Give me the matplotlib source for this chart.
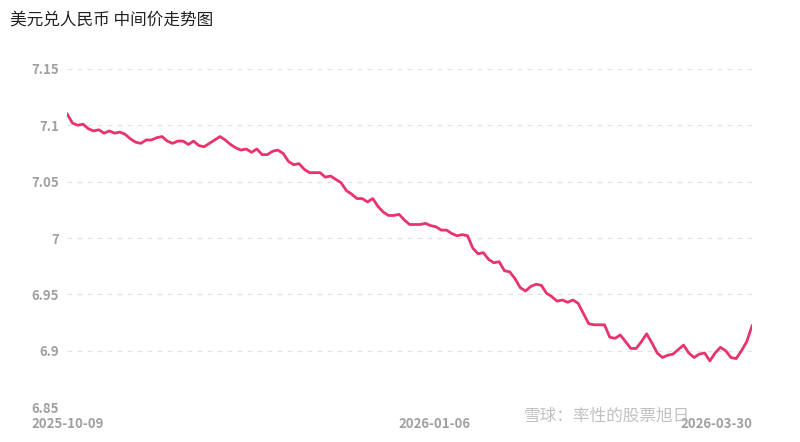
import matplotlib
matplotlib.use("Agg")
import matplotlib.pyplot as plt

plt.rcParams['font.family'] = ['Noto Sans CJK SC', 'DejaVu Sans']

title = "美元兑人民币 中间价走势图"
x_labels = ["2025-10-09", "2026-01-06", "2026-03-30"]
values = [7.110, 7.102, 7.100, 7.101, 7.097, 7.095, 7.096, 7.093, 7.095, 7.093,
          7.094, 7.092, 7.088, 7.085, 7.084, 7.087, 7.087, 7.089, 7.090, 7.086,
          7.084, 7.086, 7.086, 7.083, 7.086, 7.082, 7.081, 7.084, 7.087, 7.090,
          7.087, 7.083, 7.080, 7.078, 7.079, 7.076, 7.079, 7.074, 7.074, 7.077,
          7.078, 7.075, 7.068, 7.065, 7.066, 7.061, 7.058, 7.058, 7.058, 7.054,
          7.055, 7.052, 7.049, 7.042, 7.039, 7.035, 7.035, 7.032, 7.035, 7.028,
          7.023, 7.020, 7.020, 7.021, 7.016, 7.012, 7.012, 7.012, 7.013, 7.011,
          7.010, 7.007, 7.007, 7.004, 7.002, 7.003, 7.002, 6.991, 6.986, 6.987,
          6.981, 6.978, 6.979, 6.971, 6.970, 6.964, 6.956, 6.953, 6.957, 6.959,
          6.958, 6.951, 6.948, 6.944, 6.945, 6.943, 6.945, 6.942, 6.933, 6.924,
          6.923, 6.923, 6.923, 6.912, 6.911, 6.914, 6.908, 6.902, 6.902, 6.908,
          6.915, 6.907, 6.898, 6.894, 6.896, 6.897, 6.901, 6.905, 6.898, 6.894,
          6.897, 6.898, 6.891, 6.898, 6.903, 6.900, 6.894, 6.893, 6.900, 6.908,
          6.922]
y_ticks = [6.85, 6.9, 6.95, 7.0, 7.05, 7.1, 7.15]
y_tick_labels = ["6.85", "6.9", "6.95", "7", "7.05", "7.1", "7.15"]

n = len(values)
fig = plt.figure(figsize=(8, 4.42), dpi=100)
ax = fig.add_axes([0.084, 0.079, 0.856, 0.765])
ax.plot(range(n), values, color="#e8336d", lw=2.0, solid_joinstyle="round")
ax.set_xlim(0, n - 1)
ax.set_ylim(6.85, 7.15)
ax.set_yticks(y_ticks)
ax.set_yticklabels(y_tick_labels)
ax.grid(axis="y", color="#e3e3e3", linestyle=(0, (4, 4)), lw=0.9)
ax.set_axisbelow(True)
for s in ax.spines.values():
    s.set_visible(False)
ax.tick_params(axis="y", length=0, pad=6, labelsize=9.5, labelcolor="#a0a0a0")
ax.tick_params(axis="x", length=0, pad=7, labelsize=9.5, labelcolor="#a0a0a0")
mid = (434 - 67) / (752 - 67) * (n - 1)
ax.set_xticks([0, mid, n - 1])
ax.set_xticklabels(x_labels)
for lbl, ha in zip(ax.get_xticklabels(), ["center", "center", "right"]):
    lbl.set_fontweight("bold")
    lbl.set_ha(ha)
for lbl in ax.get_yticklabels():
    lbl.set_fontweight("bold")

fig.text(0.012, 0.955, title, fontsize=12, color="#222222", va="center", ha="left")
fig.text(0.655, 0.058, "雪球：率性的股票旭日", fontsize=12, color="#bbbbbb",
         alpha=0.9, va="center", ha="left")
fig.savefig("out.png", dpi=100)
